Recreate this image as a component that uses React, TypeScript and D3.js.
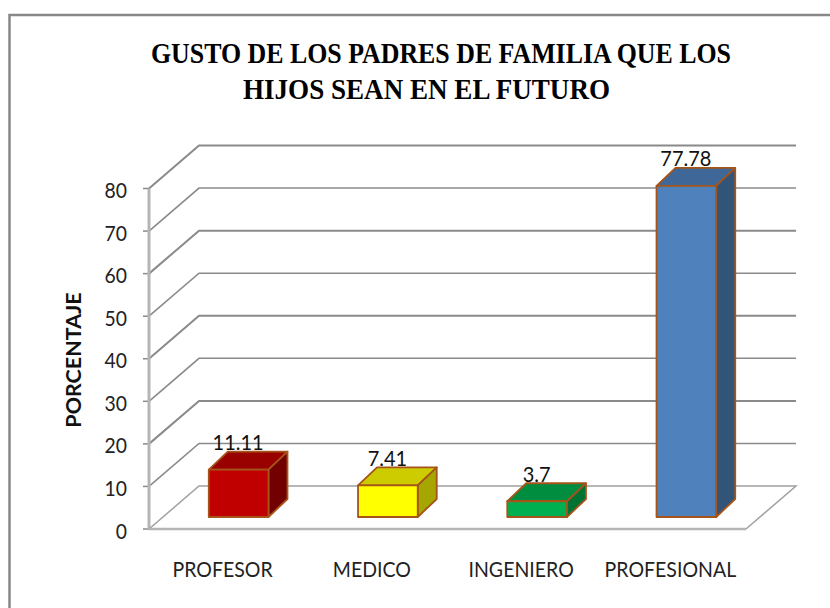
import React from "react";
import * as d3 from "d3";

const titleLines = ["GUSTO DE LOS PADRES DE FAMILIA QUE LOS", "HIJOS SEAN EN EL FUTURO"];
const yAxisTitle = "PORCENTAJE";
const categories = ["PROFESOR", "MEDICO", "INGENIERO", "PROFESIONAL"];
const values = [11.11, 7.41, 3.7, 77.78];
const valueLabels = ["11.11", "7.41", "3.7", "77.78"];
const yTicks = [0, 10, 20, 30, 40, 50, 60, 70, 80];
const faceColors = ["#c00000", "#ffff00", "#00b050", "#4f81bd"];
const topColors = ["#990000", "#cccc00", "#008d40", "#3f6797"];
const sideColors = ["#730000", "#a6a600", "#007334", "#335479"];

const W = 830, H = 608;
const wallDx = 50, wallDy = 43;
const barShiftX = 15, barShiftY = 12;
const depthX = 19, depthY = 18;
const titleCentres = [441, 426.5];
const titleBaselines = [63, 99];
const titleWidths = [580, 367];

const y = d3.scaleLinear().domain([0, 80]).range([529, 188.5]);
const x = d3.scaleBand<string>().domain(categories).range([149, 746]).paddingInner(0.6).paddingOuter(0.3);
const xBand = d3.scaleBand<string>().domain(categories).range([149, 746]);
const labelFont = "Lato, 'Open Sans', sans-serif";
const edge = "#a5541a";
const poly = d3.line<[number, number]>();

export default function App() {
  const x1 = 746, x0 = 149;
  return (
    <svg width={W} height={H} viewBox={`0 0 ${W} ${H}`} style={{ position: "absolute", left: 0, top: 0, background: "#fff" }}>
      <path d="M9.5 608V15H830" fill="none" stroke="#888" strokeWidth={2.5} />
      {titleLines.map((t, i) => (
        <text key={t} x={titleCentres[i]} y={titleBaselines[i]} textAnchor="middle" textLength={titleWidths[i]} lengthAdjust="spacingAndGlyphs" fontFamily="'Liberation Serif', serif" fontWeight={700} fontSize={30}>{t}</text>
      ))}
      {yTicks.map((t) => (
        <g key={t}>
          {t > 0 && <path d={poly([[x0, y(t)], [x0 + wallDx, y(t) - wallDy], [x1 + wallDx, y(t) - wallDy]]) ?? ""} fill="none" stroke="#8a8a8a" strokeWidth={t % 20 === 0 ? 2 : 1.6} />}
          <line x1={143} x2={x0} y1={y(t)} y2={y(t)} stroke="#8a8a8a" strokeWidth={1.5} />
          <text transform={`translate(127,${y(t) + 9.5}) scale(0.9,1)`} textAnchor="end" fontFamily={labelFont} fontSize={21.5} fill="#222">{t}</text>
        </g>
      ))}
      <line x1={x0} x2={x0} y1={y(80)} y2={y(0)} stroke="#b5b5b5" strokeWidth={3} />
      <path d={poly([[x0, y(0)], [x0 + wallDx, y(0) - wallDy], [x1 + wallDx, y(0) - wallDy], [x1, y(0)]]) ?? ""} fill="none" stroke="#a0a0a0" strokeWidth={1.5} />
      <line x1={x0} x2={x1} y1={y(0)} y2={y(0)} stroke="#b5b5b5" strokeWidth={2.5} />
      {categories.map((c, i) => {
        const bl = (x(c) ?? 0) + barShiftX;
        const w = x.bandwidth();
        const top = y(values[i]) - barShiftY;
        const bot = y(0) - barShiftY;
        return (
          <g key={c} stroke={edge} strokeWidth={1.8} strokeLinejoin="round">
            <path d={poly([[bl, top], [bl + depthX, top - depthY], [bl + w + depthX, top - depthY], [bl + w, top]]) + "Z"} fill={topColors[i]} />
            <path d={poly([[bl + w, top], [bl + w + depthX, top - depthY], [bl + w + depthX, bot - depthY], [bl + w, bot]]) + "Z"} fill={sideColors[i]} />
            <rect x={bl} y={top} width={w} height={bot - top} fill={faceColors[i]} />
            <text transform={`translate(${bl + w / 2 - 0.5},${top - 19.5}) scale(0.93,1)`} stroke="none" textAnchor="middle" fontFamily={labelFont} fontSize={21.5} fill="#111">{valueLabels[i]}</text>
          </g>
        );
      })}
      {categories.map((c) => (
        <text key={c} transform={`translate(${(xBand(c) ?? 0) + xBand.bandwidth() / 2 - 1},577) scale(0.93,1)`} textAnchor="middle" fontFamily={labelFont} fontSize={21} fill="#222">{c}</text>
      ))}
      <text transform="translate(81,360) rotate(-90)" textAnchor="middle" fontFamily={labelFont} fontWeight={700} fontSize={21.5} fill="#111">{yAxisTitle}</text>
    </svg>
  );
}
